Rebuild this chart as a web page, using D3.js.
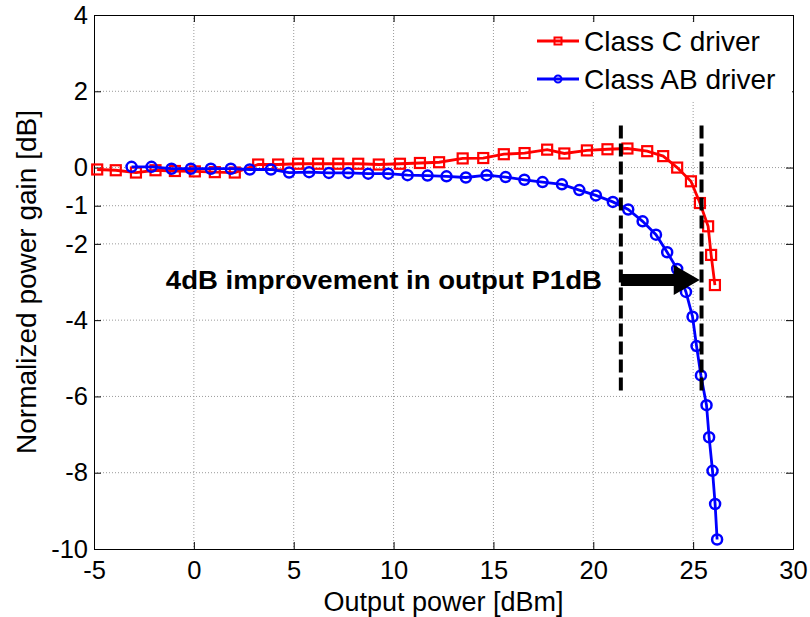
<!DOCTYPE html>
<html><head><meta charset="utf-8">
<script src="https://cdn.jsdelivr.net/npm/d3@7"></script>
<style>body{margin:0;background:#fff}svg{display:block}text{font-family:"Liberation Sans",Arial,sans-serif}</style>
</head><body>
<svg id="chart" width="810" height="617"></svg>
<script>
const xTicks = [-5, 0, 5, 10, 15, 20, 25, 30];
const yTicks = [4, 2, 0, -1, -2, -4, -6, -8, -10];
const seriesNames = ["Class C driver", "Class AB driver"];
const classCx = [-4.84,-3.91,-2.90,-1.92,-0.95,0.05,1.05,2.05,3.22,4.22,5.22,6.22,7.23,8.23,9.26,10.32,11.32,12.28,13.46,14.49,15.52,16.56,17.69,18.55,19.68,20.71,21.71,22.70,23.50,24.20,24.89,25.34,25.75,25.90,26.09];
const classCy = [-0.05,-0.07,-0.13,-0.07,-0.09,-0.10,-0.12,-0.13,0.08,0.08,0.10,0.10,0.10,0.10,0.08,0.10,0.12,0.14,0.24,0.25,0.35,0.38,0.47,0.37,0.45,0.48,0.50,0.43,0.30,0.00,-0.36,-0.93,-1.54,-2.29,-3.08];
const classABx = [-3.12,-2.12,-1.12,-0.15,0.85,1.85,2.80,3.86,4.77,5.77,6.76,7.73,8.73,9.73,10.70,11.70,12.65,13.62,14.66,15.61,16.55,17.46,18.43,19.30,20.13,20.98,21.75,22.47,23.14,23.70,24.20,24.64,24.97,25.17,25.39,25.67,25.80,25.97,26.10,26.20];
const classABy = [0.02,0.02,-0.03,-0.03,-0.03,-0.03,-0.05,-0.05,-0.13,-0.12,-0.14,-0.14,-0.16,-0.16,-0.20,-0.21,-0.23,-0.26,-0.20,-0.25,-0.32,-0.38,-0.44,-0.59,-0.73,-0.90,-1.10,-1.41,-1.76,-2.22,-2.66,-3.26,-3.91,-4.68,-5.45,-6.23,-7.07,-7.95,-8.82,-9.75];
const p1dbMarkers = [21.38, 25.42];   // dashed vertical lines (dBm)
const markerSpan = [1.1, -5.95];      // dashed line extent (dB)
const arrowFromTo = [21.38, 25.33];   // arrow x extent (dBm)
const arrowLevel = -2.95;             // arrow y (dB)
const annotation = "4dB improvement in output P1dB";

const svg = d3.select("#chart");
const L = 94, T = 15, R = 793, B = 549;
const x = d3.scaleLinear().domain([-5, 30]).range([L, R]);
const y = d3.scaleLinear().domain([-10, 4]).range([B, T]);

// grid
const grid = svg.append("g").attr("stroke", "#9a9a9a").attr("stroke-width", 1).attr("stroke-dasharray", "1,2");
grid.selectAll(".gx").data(xTicks.slice(1, -1)).join("line")
  .attr("x1", d => x(d)).attr("x2", d => x(d)).attr("y1", T).attr("y2", B);
grid.selectAll(".gy").data(yTicks.slice(1, -1)).join("line")
  .attr("y1", d => y(d)).attr("y2", d => y(d)).attr("x1", L).attr("x2", R);

// axes
const tickLen = 7;
const fmt = d => d < 0 ? "-" + Math.abs(d) : String(d);
const axB = svg.append("g").attr("transform", `translate(0,${B})`)
  .call(d3.axisBottom(x).tickValues(xTicks).tickSize(-tickLen).tickPadding(14).tickFormat(fmt));
const axT = svg.append("g").attr("transform", `translate(0,${T})`)
  .call(d3.axisTop(x).tickValues(xTicks).tickSize(-tickLen).tickFormat(""));
const axL = svg.append("g").attr("transform", `translate(${L},0)`)
  .call(d3.axisLeft(y).tickValues(yTicks).tickSize(-tickLen).tickPadding(6).tickFormat(fmt));
const axR = svg.append("g").attr("transform", `translate(${R},0)`)
  .call(d3.axisRight(y).tickValues(yTicks).tickSize(-tickLen).tickFormat(""));
[axB, axT, axL, axR].forEach(a => {
  a.select(".domain").attr("stroke", "#000").attr("stroke-width", 1);
  a.selectAll(".tick line").attr("stroke", "#000");
  a.selectAll("text").attr("font-size", 25.5).attr("fill", "#000").attr("font-family", "Liberation Sans, Arial, sans-serif");
});
axB.selectAll("text").attr("dy", "0.71em").attr("y", 12);
axL.selectAll("text").attr("x", -6);

// axis labels
svg.append("text").attr("x", (L + R) / 2).attr("y", 611).attr("text-anchor", "middle")
  .attr("font-size", 27).text("Output power [dBm]");
svg.append("text").attr("transform", `translate(36,${(T + B) / 2}) rotate(-90)`).attr("text-anchor", "middle")
  .attr("font-size", 28).text("Normalized power gain [dB]");

// series
const redData = classCx.map((v, i) => [v, classCy[i]]);
const blueData = classABx.map((v, i) => [v, classABy[i]]);
const line = d3.line().x(d => x(d[0])).y(d => y(d[1]));
svg.append("path").datum(redData).attr("d", line).attr("fill", "none").attr("stroke", "#ff0000").attr("stroke-width", 2.8);
svg.append("g").selectAll("rect").data(redData).join("rect")
  .attr("x", d => x(d[0]) - 5).attr("y", d => y(d[1]) - 5).attr("width", 10).attr("height", 10)
  .attr("fill", "none").attr("stroke", "#ff0000").attr("stroke-width", 2.2);
svg.append("path").datum(blueData).attr("d", line).attr("fill", "none").attr("stroke", "#0000ff").attr("stroke-width", 2.8);
svg.append("g").selectAll("circle").data(blueData).join("circle")
  .attr("cx", d => x(d[0])).attr("cy", d => y(d[1])).attr("r", 5)
  .attr("fill", "none").attr("stroke", "#0000ff").attr("stroke-width", 2.5);

// dashed markers
svg.append("g").selectAll("line").data(p1dbMarkers).join("line")
  .attr("x1", d => x(d)).attr("x2", d => x(d)).attr("y1", y(markerSpan[0])).attr("y2", y(markerSpan[1]))
  .attr("stroke", "#000").attr("stroke-width", 4).attr("stroke-dasharray", "13,5");

// arrow
const ax0 = x(arrowFromTo[0]), ax1 = x(arrowFromTo[1]), ay = y(arrowLevel);
const headLen = 26, shaftHalf = 6, headHalf = 15;
svg.append("path").attr("fill", "#000").attr("d",
  `M${ax0},${ay - shaftHalf} L${ax1 - headLen},${ay - shaftHalf} L${ax1 - headLen},${ay - headHalf} L${ax1},${ay} L${ax1 - headLen},${ay + headHalf} L${ax1 - headLen},${ay + shaftHalf} L${ax0},${ay + shaftHalf} Z`);
svg.append("text").attr("x", ax0 - 19).attr("y", ay + 9).attr("text-anchor", "end")
  .attr("font-size", 25).attr("font-weight", "bold")
  .attr("textLength", 436).attr("lengthAdjust", "spacingAndGlyphs").text(annotation);

// legend
const lg = svg.append("g");
lg.append("rect").attr("x", 528).attr("y", 22).attr("width", R - 528 - 1).attr("height", 78).attr("fill", "#fff");
const colors = ["#ff0000", "#0000ff"];
const ly = [41, 79];
seriesNames.forEach((name, i) => {
  lg.append("line").attr("x1", 537).attr("x2", 579).attr("y1", ly[i]).attr("y2", ly[i]).attr("stroke", colors[i]).attr("stroke-width", 2.8);
  if (i === 0) lg.append("rect").attr("x", 558 - 3.5).attr("y", ly[i] - 3.5).attr("width", 7).attr("height", 7).attr("fill", "none").attr("stroke", colors[i]).attr("stroke-width", 2);
  else lg.append("circle").attr("cx", 558).attr("cy", ly[i]).attr("r", 3.5).attr("fill", "none").attr("stroke", colors[i]).attr("stroke-width", 2);
  lg.append("text").attr("x", 584).attr("y", ly[i] + 10).attr("font-size", 28).text(name);
});
</script>
</body></html>
